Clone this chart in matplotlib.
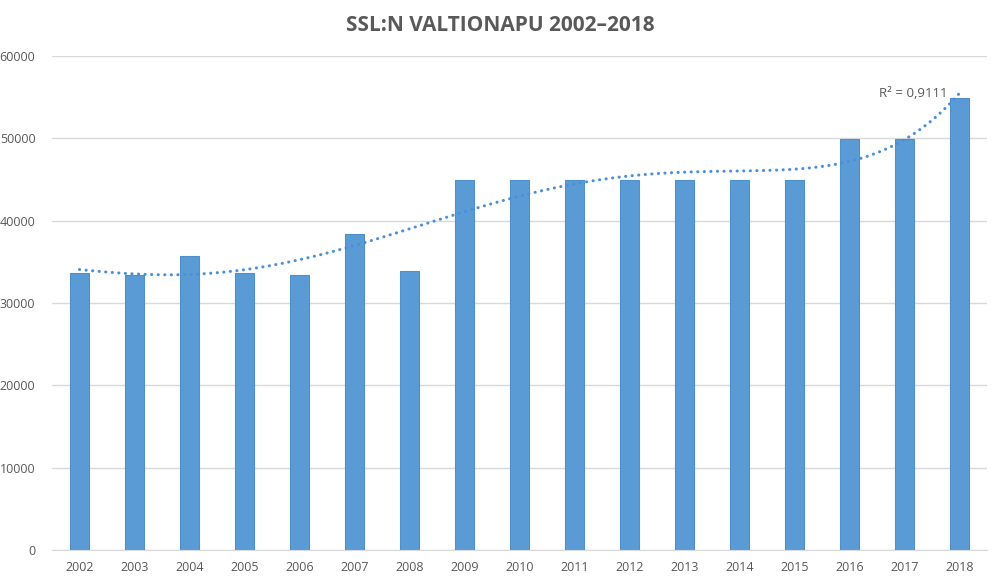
import numpy as np
import matplotlib
matplotlib.use("Agg")
import matplotlib.pyplot as plt

years = ["2002", "2003", "2004", "2005", "2006", "2007", "2008", "2009", "2010",
         "2011", "2012", "2013", "2014", "2015", "2016", "2017", "2018"]
values = [33600, 33400, 35700, 33600, 33400, 38400, 33900, 44900, 44900,
          44900, 44900, 44900, 44900, 44900, 49900, 49900, 54900]
yticks = [0, 10000, 20000, 30000, 40000, 50000, 60000]
title = "SSL:N VALTIONAPU 2002–2018"
r2_label = "R² = 0,9111"
trend_order = 5

plt.rcParams['font.family'] = ['Open Sans', 'DejaVu Sans']
grey = "#595959"
fig = plt.figure(figsize=(10, 5.83), dpi=100)
ax = fig.add_axes([0.052, 0.0566, 0.935, 0.8474])

x = np.arange(len(years))
ax.bar(x, values, width=0.33, color="#5B9BD5", edgecolor="#4E8FCC", linewidth=0.8, zorder=2)

xs = np.arange(1, len(years) + 1)
vals = np.array(values, dtype=float)
c = np.polyfit(xs, vals, trend_order)
xf = np.linspace(1, len(years), 400)
ax.plot(xf - 1, np.polyval(c, xf), color="#4A90D9", linewidth=2.2,
        linestyle=(0, (0.05, 2.1)), dash_capstyle="round", zorder=3)
ax.text(15.78, 55500, r2_label, fontsize=9.5, color=grey, ha="right", va="center")

ax.set_xlim(-0.5, len(years) - 0.5)
ax.set_ylim(0, 60000)
ax.set_yticks(yticks)
ax.set_xticks(x)
ax.set_xticklabels(years)
ax.grid(axis="y", color="#D9D9D9", linewidth=1, zorder=0)
ax.set_axisbelow(True)
for s in ["top", "right", "left"]:
    ax.spines[s].set_visible(False)
ax.spines["bottom"].set_color("#D9D9D9")
ax.tick_params(length=0, colors=grey, labelsize=9, pad=8)
ax.tick_params(axis="y", pad=12)
fig.suptitle(title, x=0.5, y=0.975, fontsize=15, fontweight="bold", color=grey)
fig.savefig("out.png", dpi=100)
